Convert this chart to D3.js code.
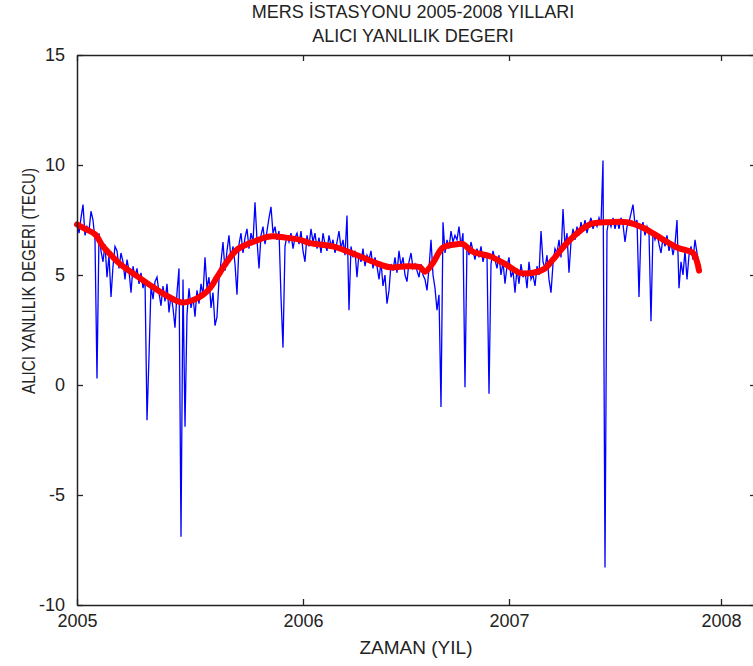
<!DOCTYPE html>
<html>
<head>
<meta charset="utf-8">
<script src="https://cdn.jsdelivr.net/npm/d3@7.9.0/dist/d3.min.js"></script>
<style>
  html, body { margin: 0; padding: 0; background: #fff; }
  svg { display: block; }
  text { font-family: "Liberation Sans", Arial, sans-serif; fill: #222; }
</style>
</head>
<body>
<svg id="chart" width="753" height="666"></svg>
<script>
// daily receiver bias values (TECU), one per sample index
const biasVals = [
  7.4, 6.9, 7.6, 8.2, 6.8, 7.2, 7.0, 7.9, 7.5, 6.6,
  0.3, 6.9, 6.1, 5.6, 6.4, 4.9, 5.9, 4.0, 5.4, 6.3,
  6.1, 5.3, 6.0, 5.6, 4.8, 5.7, 5.2, 4.2, 5.4, 4.9,
  5.3, 4.6, 5.1, 4.4, 4.8, -1.6, 1.3, 4.5, 3.9, 4.7,
  4.9, 4.2, 3.6, 4.5, 3.8, 4.6, 3.3, 4.1, 3.5, 2.6,
  4.2, 5.3, -6.9, 4.8, -1.9, 3.2, 4.4, 3.5, 4.0, 3.1,
  4.3, 3.7, 4.6, 4.1, 5.8, 4.4, 4.9, 3.5, 4.2, 2.7,
  3.1, 4.8, 5.6, 6.5, 5.2, 6.1, 6.8, 5.7, 6.3, 5.5,
  4.1, 6.4, 6.9, 6.0, 6.7, 7.1, 6.2, 6.9, 6.5, 8.3,
  6.6, 5.3, 6.8, 7.2, 6.4, 7.0, 7.6, 8.1, 6.9, 7.2,
  6.6, 7.0, 4.0, 1.7, 6.3, 6.8, 6.5, 6.9, 6.2, 6.7,
  6.9, 6.4, 7.0, 6.1, 5.6, 6.8, 6.3, 7.1, 6.5, 6.9,
  6.2, 6.7, 6.0, 6.9, 6.4, 6.1, 6.8, 6.3, 6.6, 6.0,
  6.5, 7.0, 6.2, 6.6, 5.9, 7.7, 3.4, 6.3, 5.8, 6.1,
  4.9, 6.0, 5.6, 6.2, 5.4, 5.9, 5.7, 6.1, 5.3, 5.8,
  5.4, 4.8, 5.6, 4.5, 5.0, 3.7, 4.3, 5.5, 5.2, 5.8,
  5.1, 6.1, 5.4, 5.8, 5.0, 4.7, 5.6, 6.0, 5.3, 5.5,
  5.2, 4.9, 5.5, 5.0, 4.8, 4.3, 5.3, 6.6, 5.0, 4.4,
  3.4, 4.1, -1.0, 7.4, 6.0, 6.6, 6.2, 7.0, 6.5, 6.8,
  6.6, 7.2, 6.3, 6.9, -0.1, 6.4, 5.9, 6.5, 6.1, 5.7,
  6.2, 5.8, 6.3, 5.6, 6.0, 5.9, -0.4, 5.5, 6.1, 5.7,
  5.3, 5.9, 5.0, 5.6, 4.6, 5.4, 5.8, 4.9, 5.2, 4.2,
  5.3, 4.6, 5.5, 4.9, 5.2, 4.4, 5.6, 4.8, 5.0, 4.5,
  5.4, 5.0, 7.0, 5.6, 5.3, 5.9, 4.8, 4.2, 5.5, 6.2,
  6.0, 6.6, 5.8, 8.0, 6.3, 6.9, 5.1, 6.5, 7.1, 6.6,
  7.2, 6.8, 7.4, 7.0, 7.5, 6.9, 7.3, 7.6, 7.1, 7.4,
  7.2, 7.6, 7.3, 10.2, -8.3, 7.0, 7.5, 7.2, 7.6, 7.1,
  7.5, 7.1, 7.6, 7.3, 6.5, 7.2, 7.4, 7.8, 8.2, 7.3,
  7.5, 4.0, 7.1, 7.4, 6.8, 7.2, 6.9, 2.9, 7.0, 6.6,
  6.9, 6.4, 6.0, 6.7, 6.3, 6.8, 6.1, 6.5, 5.9, 6.4,
  7.5, 4.4, 5.6, 5.0, 6.1, 4.8, 5.9, 6.3, 5.7, 6.6, 6.0, 5.5
];

// smoothed trend (red), sample index / value
const trendIdx = [0, 4, 9, 13, 16.5, 21.5, 30, 38, 45, 52.5, 59, 63, 66.5, 70, 75, 80, 86.5, 96.5,
  104, 111.5, 116.5, 128, 140, 148, 156.5, 165, 171.5, 174, 178, 183, 190, 193, 198, 206.5,
  215, 221.5, 228, 234, 238, 246.5, 256.5, 266.5, 275, 283, 291.5, 300, 308, 310, 311];
const trendVals = [7.3, 7.1, 6.85, 6.3, 5.95, 5.5, 4.95, 4.45, 4.05, 3.75, 3.9, 4.1, 4.4, 4.9, 5.6, 6.15, 6.45, 6.75,
  6.7, 6.6, 6.45, 6.3, 5.9, 5.6, 5.35, 5.4, 5.35, 5.15, 5.55, 6.25, 6.4, 6.4, 6.05, 5.85,
  5.45, 5.1, 5.1, 5.3, 5.7, 6.6, 7.3, 7.4, 7.4, 7.15, 6.7, 6.25, 6.0, 5.6, 5.2];

const yearTicks = [0, 113, 216, 322];
const yearLabels = ['2005', '2006', '2007', '2008'];
const yTicks = [-10, -5, 0, 5, 10, 15];
const xMax = 339.5;

const svg = d3.select('#chart');
const plotL = 77, plotR = 756, plotT = 55, plotB = 605;

const x = d3.scaleLinear().domain([0, xMax]).range([plotL, plotR]);
const y = d3.scaleLinear().domain([-10, 15]).range([plotB, plotT]);

// data lines
const biasLine = d3.line()
  .x((d, i) => x(i))
  .y(d => y(d));

svg.append('path')
  .datum(biasVals)
  .attr('d', biasLine)
  .attr('fill', 'none')
  .attr('stroke', '#0000ff')
  .attr('stroke-width', 1.3);

const trend = trendIdx.map((d, i) => [d, trendVals[i]]);
svg.append('path')
  .datum(trend)
  .attr('d', d3.line().x(d => x(d[0])).y(d => y(d[1])).curve(d3.curveCatmullRom))
  .attr('fill', 'none')
  .attr('stroke', '#ff0000')
  .attr('stroke-width', 6)
  .attr('stroke-linejoin', 'round')
  .attr('stroke-linecap', 'round');

// axes (matlab style box, inward ticks)
const tick = 6;
const axisColor = '#222';

const bottomAxis = d3.axisBottom(x).tickValues(yearTicks).tickFormat((d, i) => yearLabels[i])
  .tickSizeInner(-tick).tickSizeOuter(0).tickPadding(12);
const topAxis = d3.axisTop(x).tickValues(yearTicks).tickFormat('').tickSizeInner(-tick).tickSizeOuter(0);
const leftAxis = d3.axisLeft(y).tickValues(yTicks).tickFormat(d => String(d))
  .tickSizeInner(-tick).tickSizeOuter(0).tickPadding(12);
const rightAxis = d3.axisRight(y).tickValues(yTicks).tickFormat('').tickSizeInner(-tick).tickSizeOuter(0);

const gx = svg.append('g').attr('transform', `translate(0,${plotB})`).call(bottomAxis);
const gt = svg.append('g').attr('transform', `translate(0,${plotT})`).call(topAxis);
const gy = svg.append('g').attr('transform', `translate(${plotL},0)`).call(leftAxis);
const gr = svg.append('g').attr('transform', `translate(${plotR},0)`).call(rightAxis);

[gx, gt, gy, gr].forEach(g => {
  g.selectAll('.domain').attr('stroke', axisColor).attr('stroke-width', 1.5);
  g.selectAll('.tick line').attr('stroke', axisColor).attr('stroke-width', 1.3);
  g.selectAll('text')
    .style('font-family', '"Liberation Sans", Arial, sans-serif')
    .style('font-size', '18px')
    .attr('fill', '#222');
});
gx.selectAll('text').attr('dy', '0.71em').attr('y', 9);

// titles
svg.append('text')
  .attr('x', 413).attr('y', 18)
  .attr('text-anchor', 'middle')
  .style('font-size', '18px')
  .text('MERS İSTASYONU 2005-2008 YILLARI');

svg.append('text')
  .attr('x', 413).attr('y', 42)
  .attr('text-anchor', 'middle')
  .style('font-size', '18px')
  .text('ALICI YANLILIK DEGERI');

svg.append('text')
  .attr('x', 416).attr('y', 654)
  .attr('text-anchor', 'middle')
  .style('font-size', '19px')
  .text('ZAMAN (YIL)');

svg.append('text')
  .attr('transform', 'translate(35,281) rotate(-90)')
  .attr('text-anchor', 'middle')
  .style('font-size', '18px')
  .attr('textLength', 226)
  .attr('lengthAdjust', 'spacingAndGlyphs')
  .text('ALICI YANLILIK DEGERI (TECU)');
</script>
</body>
</html>
